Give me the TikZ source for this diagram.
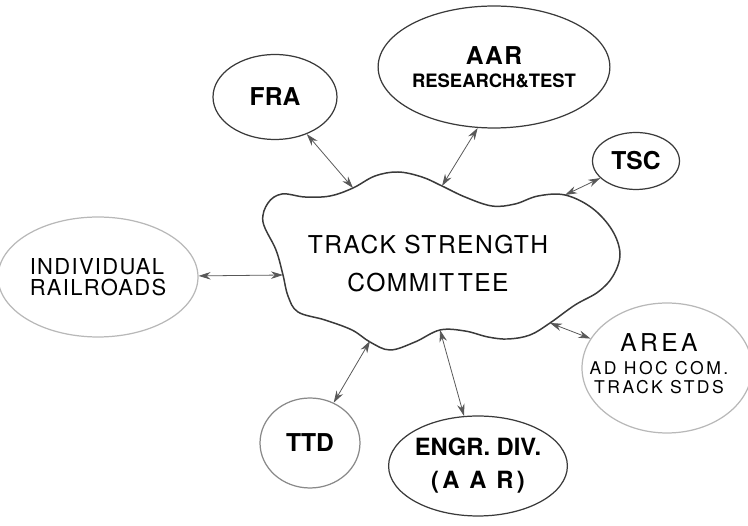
\documentclass[tikz,border=0pt]{standalone}
\usepackage{fontspec}
\setmainfont{TeX Gyre Heros}
\newfontfamily\widefont[LetterSpace=6]{TeX Gyre Heros}
\newfontfamily\widerfont[LetterSpace=14]{TeX Gyre Heros}
\usetikzlibrary{positioning, shapes.geometric, arrows.meta, calc}
\definecolor{ink}{HTML}{3A3A3A}
\definecolor{faint}{HTML}{B8B8B8}
\tikzset{
  bubble/.style={draw=ink, ellipse, line width=0.7pt, inner sep=0pt, align=center},
  fbubble/.style={bubble, draw=faint},
  link/.style={{Stealth[length=2.4mm,width=1.5mm]}-{Stealth[length=2.4mm,width=1.5mm]},
               line width=0.45pt, draw=ink!85},
  blbl/.style={font=\fontsize{14}{16}\selectfont\bfseries},
}

\begin{document}
\begin{tikzpicture}[x=0.02cm, y=-0.02cm]
  \useasboundingbox (0,0) rectangle (748,526);

  % --- central committee (wavy outline) ------------------------------
  \node[align=center, font=\widefont\fontsize{14}{21.6}\selectfont] (committee) at (428,264)
        {TRACK STRENGTH\\COMMIT\kern2pt TEE};
  \draw[ink, line width=0.85pt] plot[smooth cycle, tension=0.6] coordinates {
    (263,222) (268,203) (282,194) (305,197) (330,196) (353,188) (375,176) (398,172)
    (422,177) (442,186) (465,197) (492,206) (515,204) (538,196) (565,195) (592,208)
    (612,230) (620,254) (613,276) (598,292) (575,305) (550,323) (530,335) (508,339)
    (488,337) (465,331) (440,330) (415,342) (390,350) (370,342) (352,330) (325,320)
    (298,312) (288,296) (283,275) (276,250)};

  % points where the links meet the outline
  \coordinate (cfra)  at (353,188);
  \coordinate (caar)  at (442,186);
  \coordinate (ctsc)  at (565,195);
  \coordinate (crr)   at (283,275);
  \coordinate (carea) at (550,323);
  \coordinate (cengr) at (440,330);
  \coordinate (cttd)  at (370,341);

  % --- surrounding bodies --------------------------------------------
  \node[bubble, blbl, minimum width=2.48cm, minimum height=1.7cm] (fra) at (275,97) {FRA};
  \node[bubble, minimum width=4.3cm, minimum height=2.44cm] (aar) at (494,67)
        {{\widefont\fontsize{14}{16}\selectfont\bfseries AAR}\\[1pt]
         {\fontsize{10.5}{12}\selectfont\bfseries RESEARCH\&TEST}};
  \node[bubble, blbl, minimum width=1.74cm, minimum height=1.14cm] (tsc) at (636,161) {TSC};
  \node[fbubble, align=left, minimum width=4cm, minimum height=2.4cm,
        font=\widefont\fontsize{12.5}{12}\selectfont] (rr) at (98,277)
        {INDIVIDUAL\\RAILROADS};
  \node[fbubble, minimum width=3.4cm, minimum height=2.6cm] (area) at (667,368) {};
  \node[align=center] (areatxt) at (659,364)
        {{\widerfont\fontsize{14}{16}\selectfont AREA}\\[1pt]
         {\widerfont\fontsize{10}{11}\selectfont AD HOC COM.}\\[-1pt]
         {\widerfont\fontsize{10}{11}\selectfont TRACK STDS}};
  \node[bubble, draw=ink!60, blbl, minimum width=2cm, minimum height=1.8cm] (ttd) at (310,443) {TTD};
  \node[bubble, align=center, minimum width=3.2cm, minimum height=2cm,
        font=\fontsize{13.5}{18.8}\selectfont\bfseries] (engr) at (478,466)
        {ENGR. DIV.\\{\widerfont (A A R)}};

  % --- links ----------------------------------------------------------
  \draw[link] (fra)     -- (cfra);
  \draw[link] (aar.255) -- (caar);
  \draw[link] (tsc)     -- (ctsc);
  \draw[link] (rr)      -- (crr);
  \draw[link] (area)    -- (carea);
  \draw[link] (engr)    -- (cengr);
  \draw[link] (ttd)     -- (cttd);

\end{tikzpicture}
\end{document}
